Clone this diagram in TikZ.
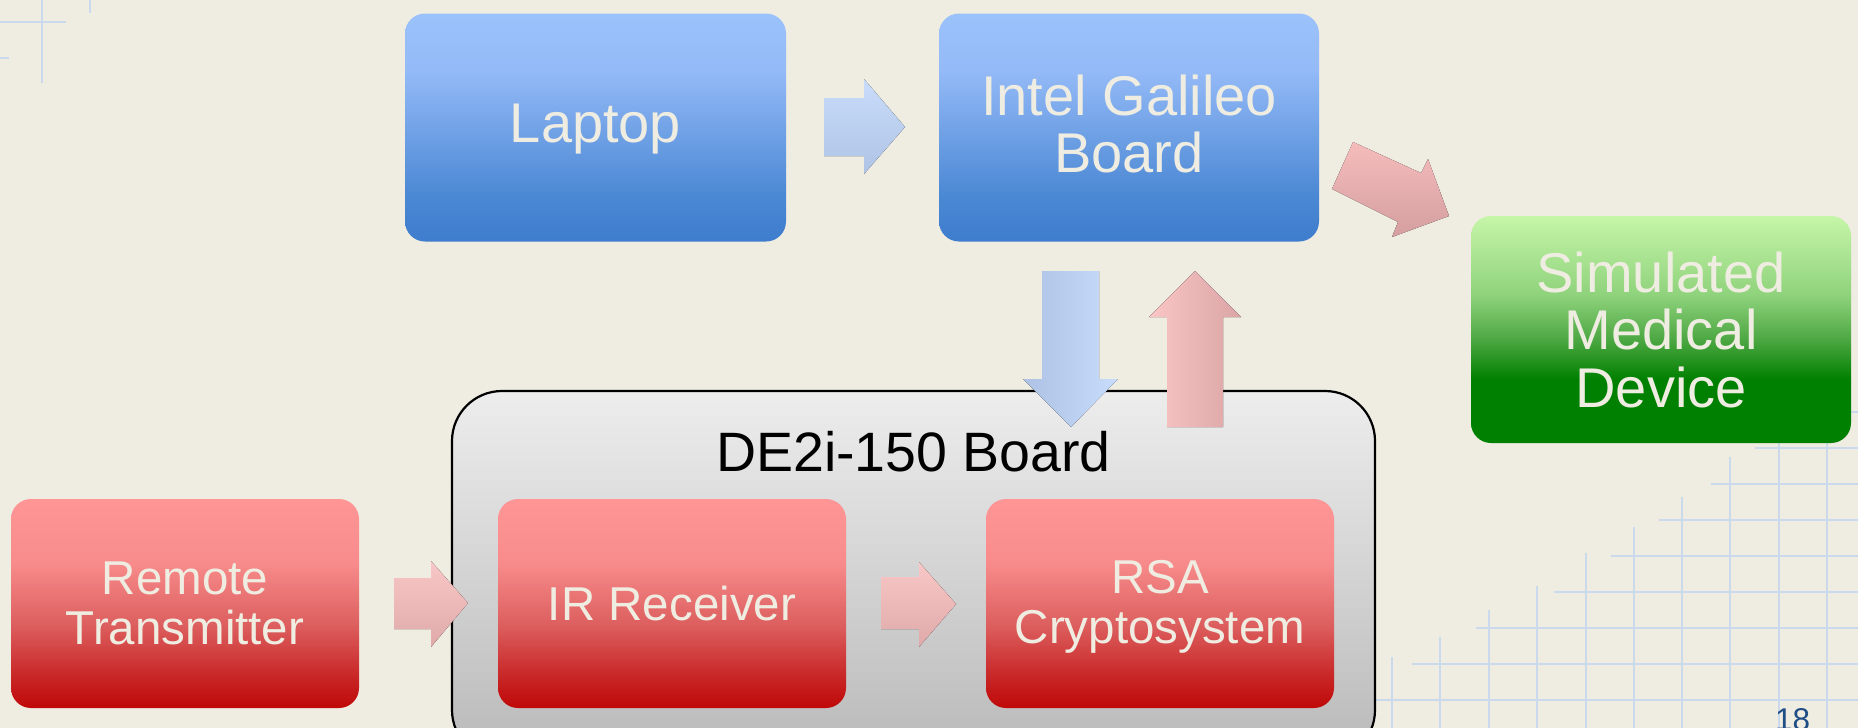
\documentclass[tikz,border=0pt]{standalone}
\usepackage{fontspec}
\setmainfont{Liberation Sans}
\definecolor{bg}{HTML}{EFECE1}
\definecolor{gridc}{HTML}{CBD9EC}
\definecolor{blueA}{HTML}{9CC2FC}
\definecolor{blueB}{HTML}{94BAF7}
\definecolor{blueC}{HTML}{4B88D4}
\definecolor{blueD}{HTML}{3E7DCD}
\definecolor{redA}{HTML}{FF9595}
\definecolor{redB}{HTML}{F88C8C}
\definecolor{redC}{HTML}{DD5F5F}
\definecolor{redD}{HTML}{C82626}
\definecolor{redE}{HTML}{C00808}
\definecolor{grA}{HTML}{C6F6A8}
\definecolor{grB}{HTML}{8FD27C}
\definecolor{grC}{HTML}{4AA640}
\definecolor{grD}{HTML}{008000}
\definecolor{boardA}{HTML}{EDEDED}
\definecolor{boardB}{HTML}{B9B9B9}
\definecolor{pagenum}{HTML}{1F4E87}
\definecolor{arBlueLight}{HTML}{C9DCFA}
\definecolor{arBlueDark}{HTML}{AFC3E5}
\definecolor{arBlueL2}{HTML}{ADC2E4}
\definecolor{arBlueR2}{HTML}{C8DCFC}
\definecolor{arRedLight}{HTML}{F9C5C5}
\definecolor{arRedDark}{HTML}{DBA5A5}
\definecolor{arDiagTop}{HTML}{F5BCBC}
\definecolor{arDiagBot}{HTML}{D59F9F}
\definecolor{arPinkTop}{HTML}{F9C7C7}
\definecolor{arPinkBot}{HTML}{DFA9A9}
\pgfdeclareverticalshading{blueshade}{100bp}{color(0bp)=(blueD); color(25bp)=(blueD); color(35bp)=(blueC); color(62.5bp)=(blueB); color(75bp)=(blueA); color(100bp)=(blueA)}
\pgfdeclareverticalshading{redshade}{100bp}{color(0bp)=(redE); color(25bp)=(redE); color(32.5bp)=(redD); color(45bp)=(redC); color(60bp)=(redB); color(75bp)=(redA); color(100bp)=(redA)}
\pgfdeclareverticalshading{greenshade}{100bp}{color(0bp)=(grD); color(25bp)=(grD); color(39bp)=(grD); color(47.5bp)=(grC); color(57.5bp)=(grB); color(75bp)=(grA); color(100bp)=(grA)}
\pgfdeclareverticalshading{boardshade}{100bp}{color(0bp)=(boardB); color(25bp)=(boardB); color(75bp)=(boardA); color(100bp)=(boardA)}
\tikzset{
  box/.style={rectangle, rounded corners=20pt, text=bg, align=center, inner sep=0pt, shade},
  boxtext/.style={text=bg, align=center, inner sep=0pt},
  bigfont/.style={font=\fontsize{56}{57}\selectfont},
  smallfont/.style={font=\fontsize{47.5}{49.5}\selectfont},
  bluebox/.style={box, shading=blueshade, minimum width=380pt, minimum height=228pt, bigfont},
  greenbox/.style={box, shading=greenshade, minimum width=380pt, minimum height=227pt, font=\fontsize{56}{57.5}\selectfont},
  redbox/.style={box, shading=redshade, minimum width=348pt, minimum height=209pt, smallfont},
  boardbox/.style={rectangle, rounded corners=50pt, shade, shading=boardshade, draw=black, line width=2.2pt, inner sep=0pt},
  gridline/.style={draw=gridc, line width=2pt},
}
\begin{document}
\begin{tikzpicture}[x=1pt,y=-1pt]
\useasboundingbox (0,0) rectangle (1858,728);
\fill[bg] (0,0) rectangle (1858,728);
\clip (0,0) rectangle (1858,728);
% background grid, top left
\draw[gridline] (42,0) -- (42,83);
\draw[gridline] (90,0) -- (90,13);
\draw[gridline] (0,22) -- (66,22);
\draw[gridline] (0,58) -- (9,58);
% background grid, bottom right
\foreach \gx/\gy in {1392/657, 1440/637, 1489/610, 1537/586, 1586/553, 1634/527, 1682/497, 1730/457, 1779/430, 1827/430}
  \draw[gridline] (\gx,\gy) -- (\gx,728);
\foreach \gy/\gx in {412/1840, 448/1755, 484/1711, 520/1659, 556/1611, 592/1554, 628/1476, 664/1412, 700/1360}
  \draw[gridline] (\gx,\gy) -- (1858,\gy);
% page number
\node[anchor=base west, inner sep=0pt, text=pagenum, font=\fontsize{31.5}{32}\selectfont] (pnum) at (1775,730.5) {18};
% board
\node[boardbox, minimum width=923pt, minimum height=369pt] (board) at (913.5,575.5) {};
\node[anchor=base, inner sep=0pt, font=\fontsize{55.5}{56}\selectfont] (boardtitle) at (913.5,471) {DE2i-150 Board};
% boxes
\node[bluebox, minimum width=381pt, label={[boxtext, bigfont, yshift=-2pt]center:Laptop}] (laptop) at (595.5,127.5) {};
\node[bluebox, label={[boxtext, bigfont, yshift=3.5pt]center:{Intel Galileo\\Board}}] (galileo) at (1129,127.5) {};
\node[greenbox] (medical) at (1661,329.5) {Simulated\\Medical\\Device};
\node[redbox] (remote) at (185,603.5) {Remote\\Transmitter};
\node[redbox] (ir) at (672,603.5) {IR Receiver};
\node[redbox, label={[boxtext, smallfont, yshift=-3.5pt]center:{RSA\\Cryptosystem}}] (rsa) at (1160,603.5) {};
% block arrows
\fill[top color=arBlueLight, bottom color=arBlueDark]
  (824,98) -- (864,98) -- (864,79) -- (905,127) -- (864,174) -- (864,156) -- (824,156) -- cycle;
\fill[left color=arBlueL2, right color=arBlueR2]
  (1042,271) -- (1099,271) -- (1099,379) -- (1118,379) -- (1071,427) -- (1023,379) -- (1042,379) -- cycle;
\fill[left color=arRedLight, right color=arRedDark]
  (1167,427) -- (1167,317) -- (1149,317) -- (1195,271) -- (1241,317) -- (1223,317) -- (1223,427) -- cycle;
\fill[top color=arDiagTop, bottom color=arDiagBot]
  (1353,142) -- (1421,173) -- (1428,159) -- (1449,216) -- (1392,237) -- (1398,222) -- (1332,189) -- cycle;
\fill[top color=arPinkTop, bottom color=arPinkBot]
  (394,578) -- (431,578) -- (431,561) -- (468,603) -- (431,647) -- (431,629) -- (394,629) -- cycle;
\fill[top color=arPinkTop, bottom color=arPinkBot]
  (881,577) -- (919,577) -- (919,562) -- (956,604) -- (919,647) -- (919,629) -- (881,629) -- cycle;
\end{tikzpicture}
\end{document}
